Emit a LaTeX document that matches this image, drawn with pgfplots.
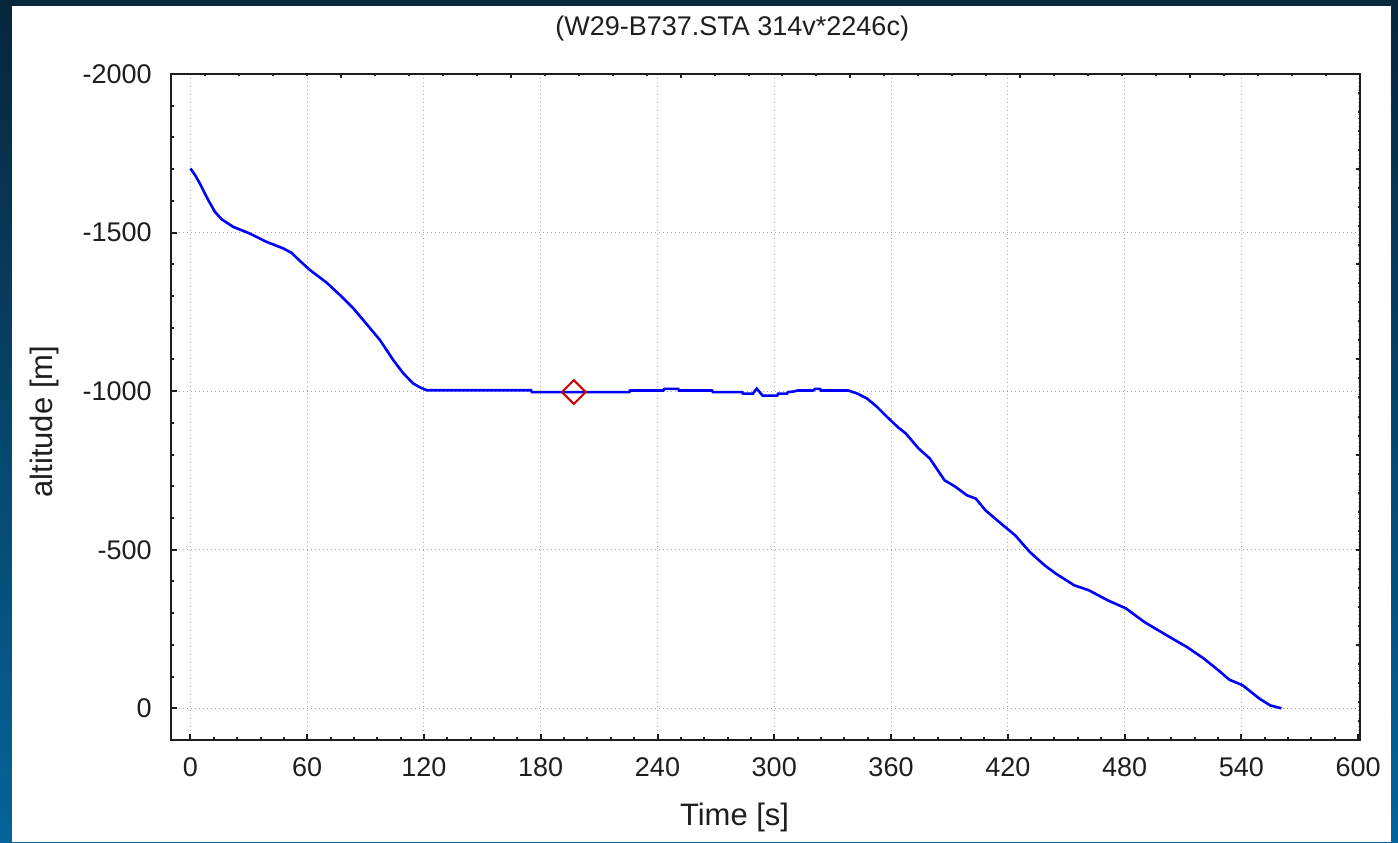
\documentclass[border=0pt]{standalone}
\usepackage{pgfplots}
\pgfplotsset{compat=1.18}
\usepackage{fontspec}
\setmainfont{Liberation Sans}
\definecolor{bgtop}{RGB}{8,38,60}
\definecolor{bgbot}{RGB}{4,100,155}
\definecolor{lineblue}{RGB}{0,0,255}
\definecolor{mkred}{RGB}{204,0,0}
\definecolor{framec}{RGB}{30,30,30}
\definecolor{gridc}{RGB}{165,165,165}
\definecolor{txt}{RGB}{30,30,30}
\pgfplotstableread{
t alt
0 -1702
2.5 -1680
4.8 -1655
7 -1628
9.1 -1603
12.5 -1566
16 -1542
22 -1518
30.5 -1497
39 -1471
47.7 -1450
52 -1436
56 -1412
61.4 -1382
70 -1342
77 -1302
83.7 -1261
88.8 -1224
97.4 -1161
104.2 -1098
109.4 -1056
114.5 -1024
117.9 -1012
121.4 -1003
175 -1003
175.5 -997
225.5 -997
226 -1002
243 -1002
243.5 -1007
250.7 -1007
251 -1002
268 -1002
268.5 -997
283.5 -997
284 -992
289 -992
291 -1008
294 -986
301.5 -986
302 -992
306.5 -992
307 -997
310 -999
312 -1002
320 -1002
321 -1007
323.6 -1007
324 -1002
338 -1002
342.5 -993
347.6 -977
352.7 -951
357.9 -919
363.8 -885
367.5 -867
374.2 -819
379.9 -788
387.5 -719
393.2 -698
398.9 -672
403.6 -661
408.4 -625
417 -580
423.7 -546
431.3 -493
438.9 -451
444.6 -425
454.1 -388
461.7 -372
471.2 -341
480.7 -315
490.2 -272
501.7 -230
512.1 -193
520.7 -157
528.2 -120
533.9 -90
540.6 -73
549.2 -31
554.9 -9
560.6 0
}\altdata
\begin{document}
\begin{tikzpicture}
\shade[top color=bgtop, bottom color=bgbot] (0,0) rectangle (699pt,421pt);
\fill[white] (6pt,0) rectangle (695.5pt,418pt);
\begin{axis}[
  at={(85.5pt,51pt)}, anchor=south west,
  scale only axis, width=594.5pt, height=333pt,
  xmin=-10, xmax=601, ymin=-2000, ymax=100, y dir=reverse,
  xtick={0,60,...,600}, ytick={-2000,-1500,-1000,-500,0},
  minor x tick num=4, minor y tick num=4,
  xtick pos=left, ytick pos=left,
  tick align=inside,
  grid=major,
  major grid style={gridc, line width=0.5pt, dash pattern=on 0.5pt off 1.5pt},
  axis line style={framec, line width=1.1pt},
  every tick/.style={framec, line width=1pt},
  major tick length=3pt, minor tick length=1.5pt,
  /pgf/number format/assume math mode=true,
  /pgf/number format/1000 sep={},
  ticklabel style={font=\fontsize{13.5}{16}\selectfont, text=txt},
  xticklabel style={anchor=center, yshift=-13.5pt},
  yticklabel style={anchor=east, inner sep=0pt, xshift=-9.5pt},
  title={(W29-B737.STA 314v*2246c)},
  title style={font=\fontsize{13.5}{16}\selectfont, text=txt, at={(axis description cs:0.472,1.051)}, anchor=center},
  xlabel={Time [s]},
  ylabel={altitude [m]},
  label style={font=\fontsize{15.5}{18}\selectfont, text=txt},
  xlabel style={at={(axis description cs:0.474,-0.117)}, anchor=center},
  ylabel style={at={(axis description cs:-0.106,0.478)}, anchor=center},
]
\addplot[lineblue, line width=1.3pt] table[x=t, y=alt] {\altdata};
\addplot[only marks, mark=square, mark size=4.2pt, mark options={mkred, line width=1pt, rotate=45, fill=none}] coordinates {(197,-997)};
\end{axis}
\begin{axis}[
  at={(85.5pt,51pt)}, anchor=south west,
  scale only axis, width=594.5pt, height=333pt,
  xmin=0, xmax=35, ymin=0, ymax=35,
  xtick={5,10,...,30}, ytick={5,10,...,30},
  minor xtick={1,...,34}, minor ytick={1,...,34},
  xtick pos=right, ytick pos=right,
  xticklabels={}, yticklabels={},
  tick align=inside,
  axis line style={draw=none},
  every tick/.style={framec, line width=1pt},
  major tick length=2.2pt, minor tick length=1.1pt,
]
\end{axis}
\end{tikzpicture}
\end{document}
